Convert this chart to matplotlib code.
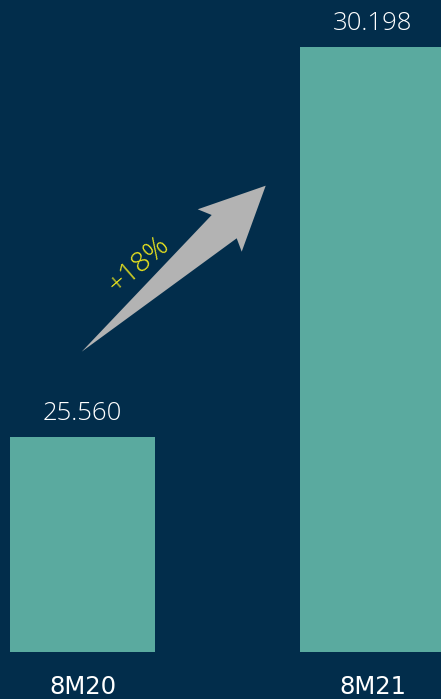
import matplotlib
matplotlib.use('Agg')
import matplotlib.pyplot as plt
from matplotlib.patches import Polygon

# data
periods = ['8M20', '8M21']
values = [25.560, 30.198]
value_labels = ['25.560', '30.198']
growth_label = '+18%'

bg = '#022d4b'
bar_color = '#5aaa9f'

plt.rcParams['font.family'] = ['Open Sans', 'DejaVu Sans']

fig = plt.figure(figsize=(4.41, 6.99), dpi=100, facecolor=bg)
ax = fig.add_axes([0, 47 / 699, 1, 652 / 699])
ax.set_facecolor(bg)

x = list(range(len(periods)))
ax.bar(x, values, width=0.5, color=bar_color, bottom=0)
ax.set_xlim(-0.2845, 1.236)
ax.set_ylim(23.0, 30.756)
ax.axis('off')

for xi, v, lab in zip(x, values, value_labels):
    ax.annotate(lab, xy=(xi, v), xytext=(0, 12.2), textcoords='offset points',
                ha='center', va='baseline', color='white', fontsize=18.5,
                fontweight='light', annotation_clip=False)

for xi, p in zip(x, periods):
    ax.annotate(p, xy=(xi, 0), xycoords=('data', 'axes fraction'),
                xytext=(0, -30.2), textcoords='offset points',
                ha='center', va='baseline', color='white', fontsize=17.5,
                family='DejaVu Sans', annotation_clip=False)

# growth arrow (pixel coords from top-left, converted to figure fraction)
W, H = 441, 699
arrow_px = [(81.7, 351.7), (211.7, 215.0), (197.7, 209.3), (265.7, 185.7),
            (241.7, 251.7), (236.7, 238.3)]
arrow_pts = [(px / W, 1 - py / H) for px, py in arrow_px]
fig.patches.append(Polygon(arrow_pts, closed=True, facecolor='#b3b3b3',
                           edgecolor='none', transform=fig.transFigure))

fig.text(139 / W, 1 - 265 / H, growth_label, rotation=41, color='#f2ea1c',
         fontsize=20.5, fontweight='light', ha='center', va='center',
         rotation_mode='anchor')

fig.savefig('out.png', dpi=100, facecolor=bg)
